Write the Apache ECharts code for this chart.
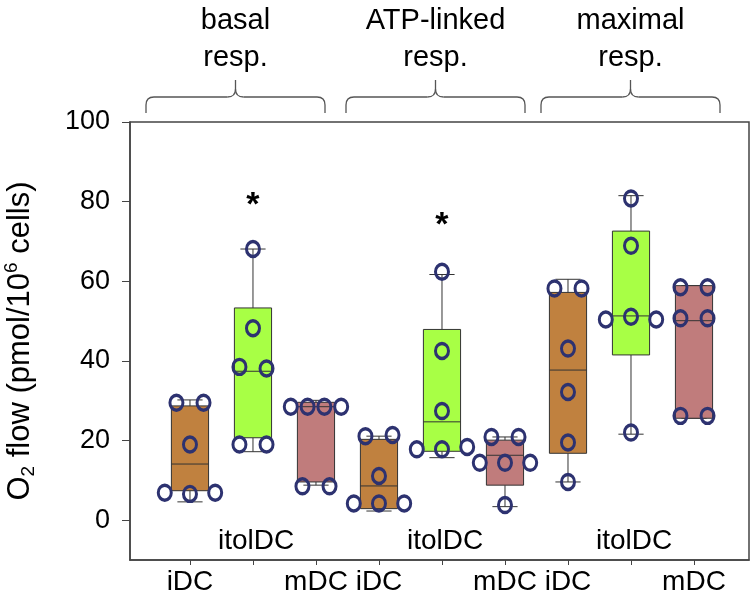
<!DOCTYPE html>
<html>
<head>
<meta charset="utf-8">
<script src="https://cdn.jsdelivr.net/npm/echarts@6/dist/echarts.min.js"></script>
<style>
  html, body { margin: 0; padding: 0; background: #fff; }
  #chart { width: 754px; height: 595px; }
</style>
</head>
<body>
<div id="chart"></div>
<script>
// categories
const groups = ['basal\nresp.', 'ATP-linked\nresp.', 'maximal\nresp.']
const cellTypes = ['iDC', 'itolDC', 'mDC']
const tickLabels = ['iDC', '', 'mDC', 'iDC', '', 'mDC', 'iDC', '', 'mDC']
const yTicks = [0, 20, 40, 60, 80, 100]

// box stats per group: [min, Q1, median, Q3, max]
const iDCBox = [[4.6, 7.4, 14.1, 28.7, 30.2], [2.3, 2.9, 8.6, 20.3, 21.1], [9.6, 16.8, 37.7, 57.2, 60.5]]
const itolDCBox = [[17.2, 20.7, 37.4, 53.3, 68.1], [15.7, 17.3, 24.7, 47.9, 61.7], [21.6, 41.5, 51.3, 72.6, 81.5]]
const mDCBox = [[8.8, 9.6, 28.5, 29.6, 30.1], [3.4, 8.8, 16.3, 20.1, 20.9], [25.6, 25.6, 50.1, 58.9, 58.9]]

// single measurements per group
const iDCPts = [[29.5, 29.5, 19.0, 6.9, 6.6, 6.9], [21.1, 21.4, 11.1, 4.2, 4.2, 4.2], [58.2, 58.2, 43.1, 32.2, 19.5, 9.6]]
const itolDCPts = [[68.1, 48.2, 38.5, 38.1, 19.0, 19.0], [62.4, 42.5, 27.4, 17.8, 17.8, 18.4], [80.8, 68.9, 50.4, 51.1, 50.4, 22.0]]
const mDCPts = [[28.5, 28.5, 28.5, 28.5, 8.5, 8.5], [20.9, 20.9, 14.4, 14.4, 14.4, 3.8], [58.5, 58.5, 50.7, 50.7, 26.2, 26.2]]

// significance stars: [box index, height]
const sigMarks = [[1, 79], [4, 74]]

const font = '"Liberation Sans", Arial, sans-serif'
const typeColors = ['#c0813f', '#a8ff45', '#c07c7c']
const pointColor = '#2d3270'
const lineColor = '#333'

const boxes = [iDCBox, itolDCBox, mDCBox]
const pts = [iDCPts, itolDCPts, mDCPts]

const boxData = []
const pointData = []
const labelData = []
groups.forEach((g, gi) => {
  cellTypes.forEach((t, ti) => {
    const x = gi * 3 + ti
    boxData.push([x, ...boxes[ti][gi], ti])

    // points with nearly the same value are spread side by side
    const vals = pts[ti][gi]
    let i = 0
    while (i < vals.length) {
      let j = i
      while (j + 1 < vals.length && Math.abs(vals[j + 1] - vals[i]) < 2.5) j++
      const n = j - i + 1
      const step = n > 1 ? Math.min(0.43, 0.8 / (n - 1)) : 0
      for (let k = 0; k < n; k++) {
        pointData.push([x + (k - (n - 1) / 2) * step, vals[i + k]])
      }
      i = j + 1
    }
  })
  labelData.push([gi * 3 + 1.05, -5.4, cellTypes[1]])
})

const renderBox = (params, api) => {
  const x = api.value(0)
  const [mn, q1, md, q3, mx] = [1, 2, 3, 4, 5].map(i => api.value(i))
  const color = typeColors[api.value(6)]
  const halfBox = api.size([0.59, 0])[0] / 2
  const halfCap = api.size([0.4, 0])[0] / 2
  const cx = api.coord([x, md])[0]
  const y = v => api.coord([x, v])[1]
  const ls = { stroke: lineColor, lineWidth: 1 }
  return {
    type: 'group',
    children: [
      { type: 'line', shape: { x1: cx, y1: y(mx), x2: cx, y2: y(q3) }, style: ls },
      { type: 'line', shape: { x1: cx, y1: y(q1), x2: cx, y2: y(mn) }, style: ls },
      { type: 'line', shape: { x1: cx - halfCap, y1: y(mx), x2: cx + halfCap, y2: y(mx) }, style: ls },
      { type: 'line', shape: { x1: cx - halfCap, y1: y(mn), x2: cx + halfCap, y2: y(mn) }, style: ls },
      { type: 'rect', shape: { x: cx - halfBox, y: y(q3), width: halfBox * 2, height: y(q1) - y(q3) }, style: { fill: color, stroke: lineColor, lineWidth: 1 } },
      { type: 'line', shape: { x1: cx - halfBox, y1: y(md), x2: cx + halfBox, y2: y(md) }, style: ls }
    ]
  }
}

const chart = echarts.init(document.getElementById('chart'))

chart.setOption({
  animation: false,
  textStyle: { fontFamily: font },
  grid: { left: 130, right: 5, top: 122, bottom: 35, outerBoundsMode: 'none', containLabel: false, show: true, borderColor: '#444', borderWidth: 1.5 },
  xAxis: {
    type: 'value',
    min: -0.952,
    max: 8.873,
    splitLine: { show: false },
    axisLine: { show: true, onZero: false, lineStyle: { color: '#444', width: 1.5 } },
    axisTick: { show: true, length: 5, customValues: tickLabels.map((t, i) => i), lineStyle: { color: '#444' } },
    axisLabel: {
      customValues: tickLabels.map((t, i) => i),
      formatter: v => tickLabels[Math.round(v)],
      fontSize: 28, color: '#000', margin: 8, fontFamily: font
    }
  },
  yAxis: {
    type: 'value',
    min: -10,
    max: 100,
    splitLine: { show: false },
    axisLine: { show: true, onZero: false, lineStyle: { color: '#444', width: 1.5 } },
    axisTick: { show: true, length: 8, customValues: yTicks, lineStyle: { color: '#444' } },
    axisLabel: { customValues: yTicks, fontSize: 27, color: '#000', margin: 20, fontFamily: font },
    name: '{t|O}{sub|2}{t| flow (pmol/10}{sup|6}{t| cells)}',
    nameLocation: 'middle',
    nameGap: 92,
    nameTextStyle: {
      fontFamily: font,
      rich: {
        t: { fontSize: 31, lineHeight: 36, color: '#000', fontFamily: font },
        sub: { fontSize: 19, lineHeight: 14, verticalAlign: 'bottom', color: '#000', fontFamily: font },
        sup: { fontSize: 19, lineHeight: 14, verticalAlign: 'top', color: '#000', fontFamily: font }
      }
    }
  },
  series: [
    {
      type: 'custom',
      renderItem: renderBox,
      encode: { x: 0, y: [1, 2, 3, 4, 5] },
      data: boxData,
      z: 2
    },
    {
      type: 'scatter',
      symbol: 'circle',
      symbolSize: [13, 15],
      itemStyle: { color: 'rgba(0,0,0,0)', borderColor: pointColor, borderWidth: 3.2, opacity: 1 },
      data: pointData,
      z: 3
    },
    {
      type: 'scatter',
      symbolSize: 0,
      silent: true,
      itemStyle: { opacity: 1 },
      data: labelData,
      label: { show: true, position: 'inside', formatter: p => p.data[2], fontSize: 28, color: '#000', opacity: 1, fontFamily: font },
      z: 4
    },
    {
      type: 'scatter',
      symbolSize: 0,
      silent: true,
      itemStyle: { opacity: 1 },
      data: sigMarks,
      label: { show: true, position: 'inside', formatter: '*', fontSize: 34, fontWeight: 'bold', color: '#000', opacity: 1, fontFamily: font },
      z: 4
    }
  ]
})

// braces and group titles above the plot
const braceSpans = [[146, 325], [346, 525], [541, 720]]
const graphics = []
const braceStyle = { fill: null, stroke: '#555', lineWidth: 1.3 }
braceSpans.forEach(([x0, x1], i) => {
  const tip = (x0 + x1) / 2
  const yl = 97, ye = 113, yt = 80, r = 8
  graphics.push(
    { type: 'line', shape: { x1: x0, y1: ye, x2: x0, y2: yl + r }, style: braceStyle },
    { type: 'bezierCurve', shape: { x1: x0, y1: yl + r, cpx1: x0, cpy1: yl, x2: x0 + r, y2: yl }, style: braceStyle },
    { type: 'line', shape: { x1: x0 + r, y1: yl, x2: tip - r, y2: yl }, style: braceStyle },
    { type: 'bezierCurve', shape: { x1: tip - r, y1: yl, cpx1: tip, cpy1: yl, x2: tip, y2: yl - r }, style: braceStyle },
    { type: 'line', shape: { x1: tip, y1: yl - r, x2: tip, y2: yt }, style: braceStyle },
    { type: 'bezierCurve', shape: { x1: tip + r, y1: yl, cpx1: tip, cpy1: yl, x2: tip, y2: yl - r }, style: braceStyle },
    { type: 'line', shape: { x1: tip + r, y1: yl, x2: x1 - r, y2: yl }, style: braceStyle },
    { type: 'bezierCurve', shape: { x1: x1 - r, y1: yl, cpx1: x1, cpy1: yl, x2: x1, y2: yl + r }, style: braceStyle },
    { type: 'line', shape: { x1: x1, y1: yl + r, x2: x1, y2: ye }, style: braceStyle },
    {
      type: 'text',
      x: tip,
      y: 2,
      style: { text: groups[i], font: `29px ${font}`, textAlign: 'center', textVerticalAlign: 'top', lineHeight: 37, fill: '#000' }
    }
  )
})
chart.setOption({ graphic: graphics })
</script>
</body>
</html>
